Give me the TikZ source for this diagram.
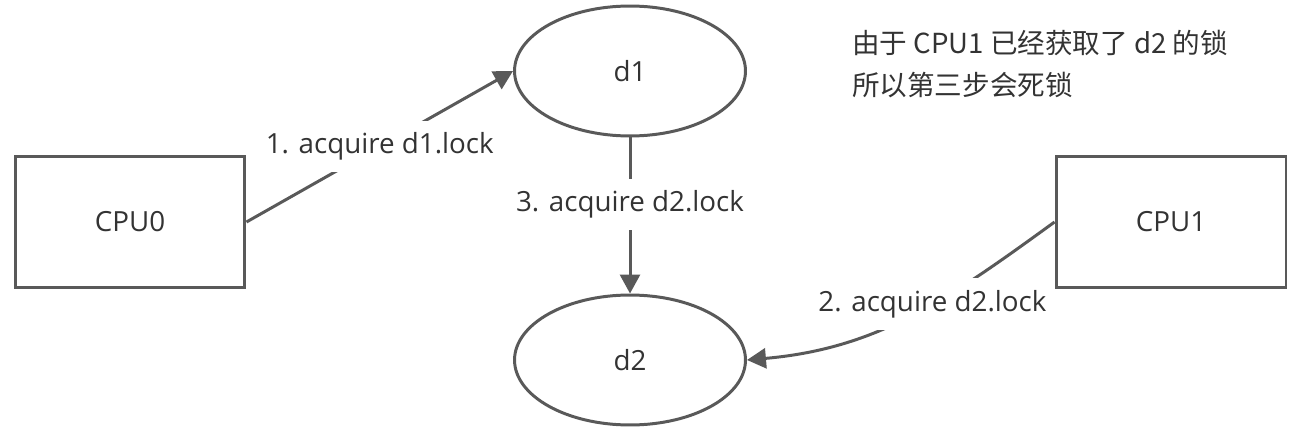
\documentclass[tikz,border=0pt]{standalone}
\usepackage{fontspec}
\setmainfont{Open Sans}
\newfontfamily\cjk{Noto Sans CJK SC}
\usetikzlibrary{arrows.meta, shapes.geometric, positioning}
\definecolor{linegray}{HTML}{595959}
\definecolor{textgray}{HTML}{333333}

\begin{document}
\begin{tikzpicture}[x=0.02cm, y=-0.02cm,
  every node/.style={text=textgray, font=\fontsize{15.8}{19}\selectfont},
  cpubox/.style={draw=linegray, line width=1.7pt, rectangle, minimum width=4.6cm, minimum height=2.62cm, inner sep=0pt},
  dataell/.style={draw=linegray, line width=1.7pt, ellipse, minimum width=4.62cm, minimum height=2.6cm, inner sep=0pt},
  lockarrow/.style={draw=linegray, line width=1.7pt, -{Triangle[length=0.38cm, width=0.4cm]}},
  steplabel/.style={fill=white, inner xsep=2pt, inner ysep=0.24cm}]
\useasboundingbox (0,0) rectangle (1300,432);
% CPUs
\node[cpubox] (cpu0) at (130,222) {CPU0};
\node[cpubox] (cpu1) at (1171,222) {CPU1};
%
% data items
\node[dataell] (d1) at (630,71) {d1};
\node[dataell] (d2) at (630,360) {d2};
%
% lock steps
\draw[lockarrow] (cpu0.east) -- node[steplabel] {1. acquire d1.lock} (d1.west);
\draw[lockarrow] (cpu1.west) to[out=216, in=5] node[steplabel, pos=0.42] {2. acquire d2.lock} (d2.east);
\draw[lockarrow] (d1.south) -- node[steplabel, pos=0.43] {3. acquire d2.lock} (d2.north);
%
% note
\node[anchor=west, align=left, font=\cjk\fontsize{15.7}{24.4}\selectfont] (note) at (846,64) {由于 CPU1 已经获取了 d2 的锁\\所以第三步会死锁};
\end{tikzpicture}
\end{document}
